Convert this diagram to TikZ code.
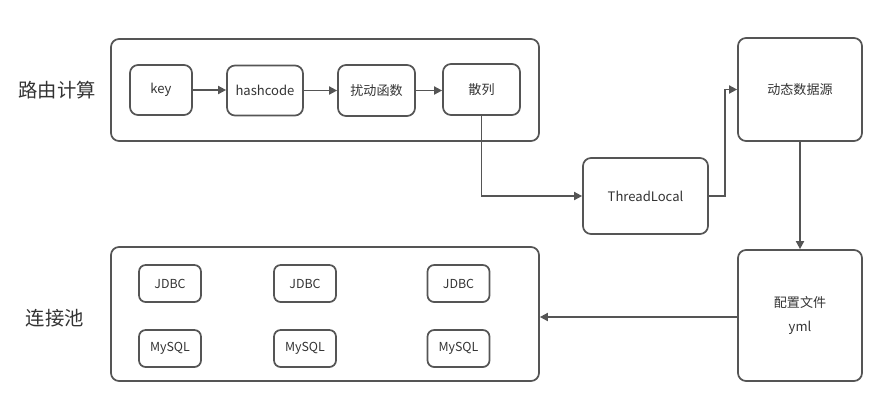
\documentclass[tikz,border=0pt]{standalone}
\usepackage{fontspec}
\setmainfont{Noto Sans CJK SC}
\usetikzlibrary{arrows.meta,positioning}
\definecolor{ln}{HTML}{555555}
\definecolor{tx}{HTML}{333333}
\tikzset{
  px/.style={x=0.75pt,y=-0.75pt},
  box/.style={draw=ln,line width=1.3pt,rounded corners=6pt,text=tx,font=\fontsize{9.8pt}{11pt}\selectfont,inner sep=0pt,align=center},
  small/.style={draw=ln,line width=1.3pt,rounded corners=5pt,text=tx,font=\fontsize{9.3pt}{10pt}\selectfont,inner sep=0pt},
  lbl/.style={text=tx,font=\fontsize{14.5pt}{16pt}\selectfont,inner sep=0pt},
  conn/.style={draw=ln,line width=1.3pt,-{Triangle[length=6pt,width=6pt]}}
}
\begin{document}
\begin{tikzpicture}[px]
\useasboundingbox (0,0) rectangle (879,412);
% top group
\node[box,minimum width=428*0.75pt,minimum height=102*0.75pt] (grpA) at (325,90) {};
\node[box,minimum width=62*0.75pt,minimum height=50*0.75pt] (key) at (161,90) {key};
\node[box,minimum width=76*0.75pt,minimum height=50*0.75pt] (hash) at (265,90.5) {hashcode};
\node[box,minimum width=77*0.75pt,minimum height=51*0.75pt] (rao) at (376.5,90.5) {扰动函数};
\node[box,minimum width=77*0.75pt,minimum height=51*0.75pt] (san) at (481.5,89.5) {散列};
\node[lbl] (la) at (57,90) {路由计算};
% right side
\node[box,minimum width=125*0.75pt,minimum height=76*0.75pt] (tl) at (645.5,196) {ThreadLocal};
\node[box,minimum width=124*0.75pt,minimum height=103*0.75pt] (dyn) at (800,89.5) {动态数据源};
\node[box,minimum width=124*0.75pt,minimum height=131*0.75pt] (cfg) at (800,315.5) {配置文件\\[7pt]yml};
% bottom group
\node[box,minimum width=428*0.75pt,minimum height=134*0.75pt] (grpB) at (325,314) {};
\node[lbl] (lb) at (55,318) {连接池};
\foreach \i/\xx in {1/170,2/305,3/458.5}{
  \node[small,minimum width=62*0.75pt,minimum height=37*0.75pt] (j\i) at (\xx,283.5) {JDBC};
  \node[small,minimum width=62*0.75pt,minimum height=37*0.75pt] (m\i) at (\xx,348.5) {MySQL};
}
% connectors
\draw[conn] (key.east) -- (key.east -| hash.west);
\draw[conn] (hash.east) -- (hash.east -| rao.west);
\draw[conn] (rao.east) -- (rao.east -| san.west);
\draw[conn] (san.south) |- (tl.west);
\coordinate (bend) at (725,196);
\draw[conn] (tl.east) -- (bend) |- (dyn.west);
\draw[conn] (dyn.south) -- (cfg.north);
\draw[conn] (cfg.west |- 0,317) -- (grpB.east |- 0,317);
\end{tikzpicture}
\end{document}
